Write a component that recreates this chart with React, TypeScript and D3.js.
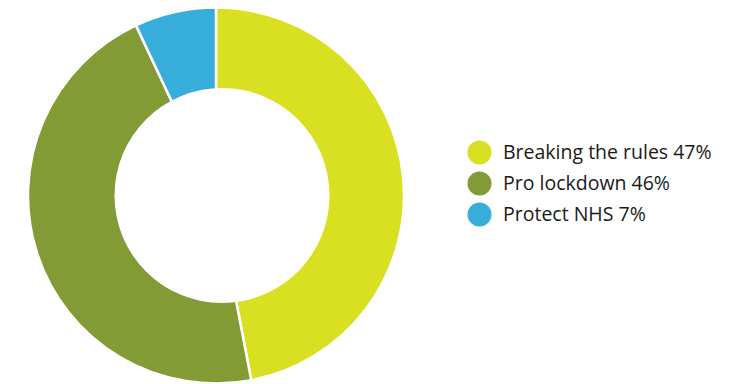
import React from "react";
import * as d3 from "d3";

const categories = ["Breaking the rules", "Pro lockdown", "Protect NHS"];
const values = [47, 46, 7];
const colors = ["#D9E021", "#829B34", "#36ADDA"];

export default function App() {
  const width = 743;
  const height = 384;
  const cx = 216;
  const cy = 195.5;
  const outer = 188;
  const holeCx = 222;
  const holeR = 107.5;
  const pie = d3.pie<number>().sort(null).value((d) => d)(values);
  const arc = d3.arc<d3.PieArcDatum<number>>().innerRadius(0).outerRadius(outer);
  const legendY = d3.scalePoint<string>().domain(categories).range([152.5, 214.5]);
  return (
    <svg
      width={width}
      height={height}
      style={{ position: "absolute", left: 0, top: 0, background: "#fff" }}
    >
      <g transform={`translate(${cx},${cy})`}>
        {pie.map((p, i) => (
          <path key={i} d={arc(p) || ""} fill={colors[i]} stroke="#fff" strokeWidth={2.5} strokeLinejoin="round" />
        ))}
      </g>
      <circle cx={holeCx} cy={cy} r={holeR} fill="#fff" />
      <g>
        {categories.map((c, i) => (
          <g key={c} transform={`translate(0,${legendY(c)})`}>
            <circle cx={479.5} cy={0} r={12} fill={colors[i]} />
            <text
              x={503}
              y={6}
              fontFamily="'Open Sans', sans-serif"
              fontSize={19.5}
              fill="#1a1a1a"
            >
              {`${c} ${values[i]}%`}
            </text>
          </g>
        ))}
      </g>
    </svg>
  );
}
